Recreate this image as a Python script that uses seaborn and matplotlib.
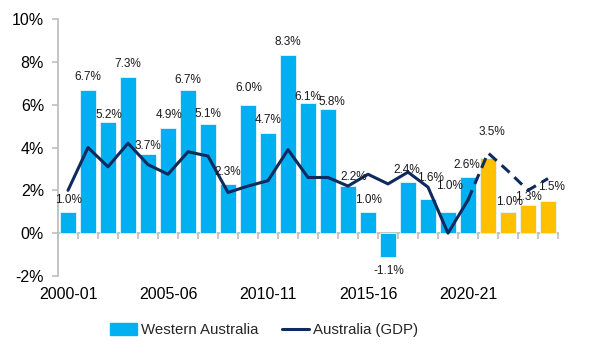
import pandas as pd
import numpy as np
import seaborn as sns
import matplotlib.pyplot as plt
from matplotlib.patches import Patch
from matplotlib.lines import Line2D

# Financial years
periods = ["2000-01", "2001-02", "2002-03", "2003-04", "2004-05", "2005-06",
           "2006-07", "2007-08", "2008-09", "2009-10", "2010-11", "2011-12",
           "2012-13", "2013-14", "2014-15", "2015-16", "2016-17", "2017-18",
           "2018-19", "2019-20", "2020-21", "2021-22", "2022-23", "2023-24",
           "2024-25"]

# Western Australia growth (%), bars
wa_growth = [1.0, 6.7, 5.2, 7.3, 3.7, 4.9, 6.7, 5.1, 2.3, 6.0, 4.7, 8.3, 6.1,
             5.8, 2.2, 1.0, -1.1, 2.4, 1.6, 1.0, 2.6, 3.5, 1.0, 1.3, 1.5]
bar_kind = ["Actual"] * 21 + ["Forecast"] * 4

# Australia (GDP) growth (%), line
aus_gdp = [2.0, 4.0, 3.1, 4.2, 3.2, 2.75, 3.8, 3.6, 1.9, 2.2, 2.45, 3.9, 2.6,
           2.6, 2.2, 2.75, 2.3, 2.85, 2.15, 0.0, 1.55, 3.75, 2.9, 2.0, 2.55]
n_actual = 21  # solid line up to 2020-21, dashed after

xticks_shown = [0, 5, 10, 15, 20]
yticks = [-2, 0, 2, 4, 6, 8, 10]

# label nudges in pixels (dx, dy) to mimic original label placement
label_dy = [12, 13, 7, 13, 8, 13, 10, 10, 12, 17, 13, 13, 6, 7, 9, 12, 14,
            12, 21, 26, 12, 26, 10, 8, 14]
label_dx = [0, 0, 1, 0, 0, 1, 0, 0, 0, 1, 0, 0, 0, 4, 6, 0, 1, -1, 2, 1, -1,
            4, 1, 0, 3]

BLUE = "#00B0F0"
YELLOW = "#FFC000"
NAVY = "#0E2A5F"
GREY = "#BFBFBF"

df = pd.DataFrame({"period": periods, "growth": wa_growth, "kind": bar_kind,
                   "gdp": aus_gdp, "pos": np.arange(len(periods))})

sns.set_theme(style="white")
plt.rcParams["font.family"] = ["Liberation Sans", "DejaVu Sans"]

fig = plt.figure(figsize=(5.96, 3.55), dpi=100)
ax = fig.add_axes([58 / 596, 1 - 276 / 355, 500 / 596, 257 / 355])

sns.barplot(data=df, x="period", y="growth", hue="kind",
            palette={"Actual": BLUE, "Forecast": YELLOW}, dodge=False,
            saturation=1, width=0.8, edgecolor="#E6F6FD", linewidth=0.6,
            legend=False, ax=ax)

sns.lineplot(data=df.iloc[:n_actual], x="pos", y="gdp", color=NAVY,
             linewidth=2.2, ax=ax)
sns.lineplot(data=df.iloc[n_actual - 1:], x="pos", y="gdp", color=NAVY,
             linewidth=2.2, ax=ax)
ax.lines[-1].set_linestyle((0, (3.5, 2.2)))

# value labels
for i, v in enumerate(wa_growth):
    dy = label_dy[i] if v >= 0 else -label_dy[i]
    ax.annotate(f"{v:.1f}%", (i, v), xytext=(label_dx[i] * 0.72, dy * 0.72),
                textcoords="offset points", ha="center", va="center",
                fontsize=8.5, color="#1a1a1a")

ax.set_xlim(-0.5, len(periods) - 0.5)
ax.set_ylim(-2, 10)
ax.set_yticks(yticks)
ax.set_yticklabels([f"{t}%" for t in yticks])
ax.set_xticks(xticks_shown)
ax.set_xticklabels([periods[i] for i in xticks_shown])
ax.set_xlabel("")
ax.set_ylabel("")

for s in ["top", "right", "bottom"]:
    ax.spines[s].set_visible(False)
ax.spines["left"].set_color(GREY)
ax.spines["left"].set_linewidth(1.3)
ax.tick_params(axis="y", left=True, length=4, width=1.2, color=GREY,
               pad=6, labelsize=11.5, labelcolor="black")
ax.tick_params(axis="x", bottom=False, length=0, pad=8, labelsize=11.5,
               labelcolor="black")

# category axis drawn at zero
zero_ax = ax.secondary_xaxis(2 / 12)
zero_ax.set_xticks(np.arange(-0.5, len(periods), 1.0))
zero_ax.set_xticklabels([])
zero_ax.spines["bottom"].set_color(GREY)
zero_ax.spines["bottom"].set_linewidth(1.3)
zero_ax.tick_params(axis="x", direction="out", length=4, width=1.2,
                    color=GREY)

handles = [Patch(facecolor=BLUE, edgecolor=BLUE),
           Line2D([0], [0], color=NAVY, linewidth=2.2)]
fig.legend(handles, ["Western Australia", "Australia (GDP)"],
           loc="center", bbox_to_anchor=(264 / 596, 1 - 330 / 355), ncol=2,
           frameon=False, fontsize=10.8, handlelength=1.8, handleheight=0.9,
           handletextpad=0.25, columnspacing=1.6)

fig.savefig("out.png", dpi=100, facecolor="white")
